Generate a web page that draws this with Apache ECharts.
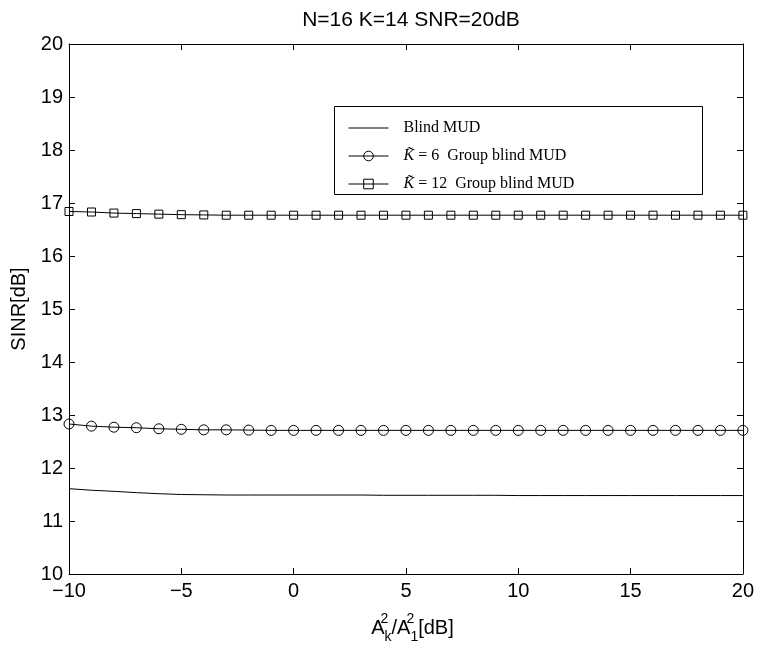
<!DOCTYPE html>
<html>
<head>
<meta charset="utf-8">
<script src="https://cdn.jsdelivr.net/npm/echarts@6/dist/echarts.min.js"></script>
<style>html,body{margin:0;padding:0;background:#fff}#c{width:757px;height:649px}</style>
</head>
<body>
<div id="c"></div>
<script>
var xValues = [-10,-9,-8,-7,-6,-5,-4,-3,-2,-1,0,1,2,3,4,5,6,7,8,9,10,11,12,13,14,15,16,17,18,19,20];
var blindMUD = [11.61,11.58,11.56,11.535,11.515,11.50,11.495,11.49,11.49,11.49,11.49,11.49,11.49,11.49,11.485,11.485,11.485,11.485,11.485,11.485,11.48,11.48,11.48,11.48,11.48,11.48,11.48,11.48,11.48,11.48,11.48];
var groupK6 = [12.83,12.79,12.77,12.76,12.74,12.73,12.72,12.72,12.715,12.71,12.71,12.71,12.71,12.71,12.71,12.71,12.71,12.71,12.71,12.71,12.71,12.71,12.71,12.71,12.71,12.71,12.71,12.71,12.71,12.71,12.71];
var groupK12 = [16.84,16.83,16.81,16.80,16.79,16.78,16.775,16.77,16.77,16.77,16.77,16.77,16.77,16.77,16.77,16.77,16.77,16.77,16.77,16.77,16.77,16.77,16.77,16.77,16.77,16.77,16.77,16.77,16.77,16.77,16.77];
var seriesNames = ['Blind MUD', 'K6 Group blind MUD', 'K12 Group blind MUD'];
var legendLabels = {
  'Blind MUD': 'Blind MUD',
  'K6 Group blind MUD': '{k|K\u0303} = 6  Group blind MUD',
  'K12 Group blind MUD': '{k|K\u0303} = 12  Group blind MUD'
};
var titleText = 'N=16 K=14 SNR=20dB';
var yName = 'SINR[dB]';

function pairs(ys){ return xValues.map(function(x,i){ return [x, ys[i]]; }); }
function minus(v){ return String(v).replace('-', '\u2212'); }

var chart = echarts.init(document.getElementById('c'), null, {renderer:'canvas'});
var axisFont = {fontFamily:'Liberation Sans, Arial, sans-serif', fontSize:20, color:'#000'};
var lineAxis = {show:true, onZero:false, lineStyle:{color:'#000', width:1}};
var tickIn = {show:true, inside:true, length:6, lineStyle:{color:'#000', width:1}};
var serif = 'Liberation Serif, Times New Roman, serif';

chart.setOption({
  backgroundColor:'#fff',
  animation:false,
  title:{
    text:titleText, left:406, textAlign:'center', top:5,
    textStyle:{fontFamily:'Liberation Sans, Arial, sans-serif', fontSize:21, fontWeight:'normal', color:'#000'}
  },
  grid:{left:69, right:13, top:44, bottom:72, containLabel:false},
  graphic:[{
    type:'rect', z:3, left:334, top:106,
    shape:{width:368, height:88},
    style:{fill:'#fff', stroke:'#000', lineWidth:1}
  }],
  legend:{
    z:5, orient:'vertical', left:348, top:120, padding:0,
    itemWidth:40, itemHeight:12, itemGap:12,
    data:seriesNames,
    lineStyle:{width:1, color:'#000'},
    itemStyle:{borderWidth:1},
    formatter:function(n){ return legendLabels[n]; },
    textStyle:{fontFamily:serif, fontSize:16, color:'#000', padding:[0,0,0,10],
      rich:{k:{fontFamily:serif, fontStyle:'italic', fontSize:16, color:'#000'}}}
  },
  xAxis:[{
    type:'value', min:-10, max:20, interval:5, position:'bottom',
    axisLine:lineAxis, axisTick:tickIn, splitLine:{show:false},
    axisLabel:Object.assign({margin:7, formatter:minus}, axisFont),
    name:'A{sup|2}{sub|k}/A{sup|2}{sub|1}[dB]', nameLocation:'middle', nameGap:38,
    nameTextStyle:{fontFamily:'Liberation Sans, Arial, sans-serif', fontSize:20, color:'#000', lineHeight:32, padding:[0,0,0,13],
      rich:{
        sup:{fontSize:14, width:0, verticalAlign:'top', lineHeight:16, color:'#000', fontFamily:'Liberation Sans, Arial, sans-serif'},
        sub:{fontSize:14, verticalAlign:'bottom', lineHeight:14, color:'#000', fontFamily:'Liberation Sans, Arial, sans-serif'}
      }}
  },{
    type:'value', min:-10, max:20, interval:5, position:'top',
    axisLine:lineAxis, axisTick:tickIn, axisLabel:{show:false}, splitLine:{show:false}
  }],
  yAxis:[{
    type:'value', min:10, max:20, interval:1, position:'left',
    axisLine:lineAxis, axisTick:tickIn, splitLine:{show:false},
    axisLabel:Object.assign({margin:6}, axisFont),
    name:yName, nameLocation:'middle', nameRotate:90, nameGap:36,
    nameTextStyle:{fontFamily:'Liberation Sans, Arial, sans-serif', fontSize:20, color:'#000'}
  },{
    type:'value', min:10, max:20, interval:1, position:'right',
    axisLine:lineAxis, axisTick:tickIn, axisLabel:{show:false}, splitLine:{show:false}
  }],
  series:[{
    name:seriesNames[0], type:'line', data:pairs(blindMUD), symbol:'none', smooth:false,
    lineStyle:{color:'#000', width:1}, itemStyle:{color:'rgba(0,0,0,0)', borderColor:'rgba(0,0,0,0)', borderWidth:0}
  },{
    name:seriesNames[1], type:'line', data:pairs(groupK6), symbol:'circle', symbolSize:10,
    lineStyle:{color:'#000', width:1},
    itemStyle:{color:'rgba(0,0,0,0)', borderColor:'#000', borderWidth:1}
  },{
    name:seriesNames[2], type:'line', data:pairs(groupK12), symbol:'rect', symbolSize:8,
    lineStyle:{color:'#000', width:1},
    itemStyle:{color:'rgba(0,0,0,0)', borderColor:'#000', borderWidth:1}
  }]
});
</script>
</body>
</html>
